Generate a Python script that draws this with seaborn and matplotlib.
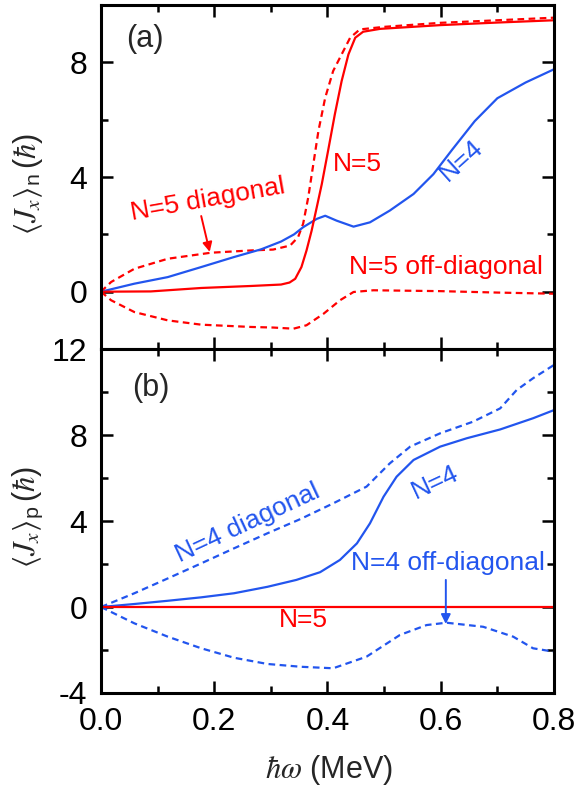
import matplotlib
matplotlib.use("Agg")
import matplotlib.pyplot as plt
import seaborn as sns
import pandas as pd
from matplotlib.ticker import MultipleLocator, FixedLocator

# ---------------- data ----------------
# panel (a): neutrons
a_n4_x = [0, 0.059, 0.118, 0.177, 0.235, 0.283, 0.318, 0.341, 0.357, 0.381, 0.396, 0.416,
          0.446, 0.475, 0.51, 0.552, 0.587, 0.62, 0.66, 0.70, 0.75, 0.8]
a_n4_y = [0, 0.28, 0.51, 0.86, 1.21, 1.48, 1.75, 2.0, 2.25, 2.54, 2.65, 2.48,
          2.27, 2.42, 2.83, 3.41, 4.1, 4.95, 5.95, 6.75, 7.3, 7.76]

a_n5_x = [0, 0.088, 0.177, 0.265, 0.318, 0.333, 0.343, 0.354, 0.363, 0.372, 0.381, 0.390,
          0.401, 0.413, 0.425, 0.437, 0.449, 0.463, 0.493, 0.599, 0.7, 0.8]
a_n5_y = [0, 0.01, 0.13, 0.20, 0.25, 0.32, 0.45, 0.86, 1.44, 2.13, 2.94, 3.76,
          4.91, 6.19, 7.35, 8.28, 8.86, 9.07, 9.17, 9.30, 9.39, 9.47]

a_n5diag_x = [0, 0.018, 0.059, 0.118, 0.194, 0.265, 0.304, 0.334, 0.348, 0.357, 0.366,
              0.375, 0.384, 0.396, 0.41, 0.425, 0.44, 0.457, 0.5, 0.599, 0.7, 0.8]
a_n5diag_y = [0, 0.34, 0.80, 1.15, 1.36, 1.44, 1.47, 1.61, 1.90, 2.37, 3.29,
              4.45, 5.61, 6.77, 7.70, 8.28, 8.86, 9.15, 9.24, 9.38, 9.47, 9.56]

a_n5off_x = [0, 0.018, 0.059, 0.118, 0.177, 0.265, 0.304, 0.34, 0.363, 0.393, 0.422,
             0.446, 0.481, 0.599, 0.7, 0.8]
a_n5off_y = [0, -0.30, -0.71, -1.0, -1.15, -1.23, -1.25, -1.29, -1.17, -0.77, -0.30,
             -0.01, 0.05, 0.02, -0.03, -0.07]

# panel (b): protons
b_n4diag_x = [0, 0.059, 0.118, 0.177, 0.235, 0.294, 0.353, 0.41, 0.469, 0.51, 0.546,
              0.599, 0.657, 0.705, 0.734, 0.763, 0.8]
b_n4diag_y = [0, 0.64, 1.33, 2.03, 2.73, 3.43, 4.1, 4.82, 5.6, 6.68, 7.46,
              8.08, 8.62, 9.24, 10.09, 10.64, 11.26]

b_n4_x = [0, 0.059, 0.118, 0.177, 0.235, 0.294, 0.345, 0.387, 0.422, 0.452, 0.475,
          0.499, 0.522, 0.552, 0.599, 0.646, 0.705, 0.763, 0.8]
b_n4_y = [0, 0.14, 0.29, 0.45, 0.64, 0.94, 1.26, 1.62, 2.19, 2.96, 3.89,
          5.13, 6.06, 6.84, 7.46, 7.85, 8.26, 8.78, 9.16]

b_n4off_x = [0, 0.059, 0.118, 0.177, 0.235, 0.294, 0.353, 0.41, 0.469, 0.528, 0.575,
             0.61, 0.675, 0.728, 0.763, 0.8]
b_n4off_y = [0, -0.76, -1.38, -1.92, -2.36, -2.65, -2.78, -2.85, -2.31, -1.30, -0.84,
             -0.73, -0.92, -1.38, -1.92, -2.08]

b_n5_x = [0, 0.8]
b_n5_y = [0, 0]

x_ticks = [0.0, 0.2, 0.4, 0.6, 0.8]
x_ticklabels = ["0.0", "0.2", "0.4", "0.6", "0.8"]
a_yticks = [0, 4, 8]
b_yticks = [-4, 0, 4, 8, 12]

RED = "#ff0000"
BLUE = "#2255ee"
DASH = (0, (3, 2))

# ---------------- style ----------------
sns.set_style("ticks")
plt.rcParams["font.family"] = ["Liberation Sans", "DejaVu Sans"]
plt.rcParams["axes.unicode_minus"] = False
plt.rcParams["mathtext.fontset"] = "custom"
plt.rcParams["mathtext.rm"] = "Liberation Sans"
plt.rcParams["mathtext.sf"] = "Liberation Sans"
plt.rcParams["mathtext.it"] = "STIXGeneral:italic"
plt.rcParams["mathtext.bf"] = "Liberation Sans:bold"
plt.rcParams["mathtext.fallback"] = "stix"

fig = plt.figure(figsize=(5.79, 7.92), dpi=100)
ax_a = fig.add_axes([0.1744, 0.5593, 0.7824, 0.4343])
ax_b = fig.add_axes([0.1744, 0.125, 0.7824, 0.4343])


def draw(ax, xs, ys, color, ls):
    df = pd.DataFrame({"x": xs, "y": ys})
    sns.lineplot(data=df, x="x", y="y", ax=ax, color=color, linestyle=ls,
                 linewidth=1.6, estimator=None, sort=False)


draw(ax_a, a_n5diag_x, a_n5diag_y, RED, DASH)
draw(ax_a, a_n5off_x, a_n5off_y, RED, DASH)
draw(ax_a, a_n4_x, a_n4_y, BLUE, "-")
draw(ax_a, a_n5_x, a_n5_y, RED, "-")

draw(ax_b, b_n4diag_x, b_n4diag_y, BLUE, DASH)
draw(ax_b, b_n4off_x, b_n4off_y, BLUE, DASH)
draw(ax_b, b_n4_x, b_n4_y, BLUE, "-")
draw(ax_b, b_n5_x, b_n5_y, RED, "-")

for ax in (ax_a, ax_b):
    ax.set_xlim(0, 0.8)
    ax.set_xlabel("")
    ax.set_ylabel("")
    ax.xaxis.set_major_locator(FixedLocator(x_ticks))
    ax.xaxis.set_minor_locator(MultipleLocator(0.1))
    ax.yaxis.set_minor_locator(MultipleLocator(2))
    ax.tick_params(which="both", direction="in", top=True, right=True,
                   width=1.8, colors="black")
    ax.tick_params(which="major", length=8.5, labelsize=23, pad=10)
    ax.tick_params(which="minor", length=5)
    for s in ax.spines.values():
        s.set_linewidth(2.2)
        s.set_color("black")

ax_a.set_ylim(-2, 10)
ax_a.set_yticks(a_yticks)
ax_a.set_xticklabels([])
ax_b.set_ylim(-4, 12)
ax_b.set_yticks(b_yticks)
ax_b.set_xticks(x_ticks)
ax_b.set_xticklabels(x_ticklabels)

# ---------------- annotations ----------------
fs = 19
ax_a.text(0.078, 8.83, "(a)", fontsize=22, ha="center", va="center")
ax_a.text(0.189, 3.2, "N=5 diagonal", color=RED, fontsize=fs, rotation=10,
          ha="center", va="center")
ax_a.annotate("", xy=(0.192, 1.39), xytext=(0.177, 2.64),
              arrowprops=dict(arrowstyle="-|>", color=RED, lw=1.4,
                              mutation_scale=14, shrinkA=0, shrinkB=0))
ax_a.text(0.452, 4.45, "N=5", color=RED, fontsize=fs, ha="center", va="center")
ax_a.text(0.636, 4.59, "N=4", color=BLUE, fontsize=fs, rotation=42,
          ha="center", va="center")
ax_a.text(0.609, 0.87, "N=5 off-diagonal", color=RED, fontsize=fs,
          ha="center", va="center")

ax_b.text(0.088, 10.19, "(b)", fontsize=22, ha="center", va="center")
ax_b.text(0.26, 3.9, "N=4 diagonal", color=BLUE, fontsize=fs, rotation=25,
          ha="center", va="center")
ax_b.text(0.59, 5.81, "N=4", color=BLUE, fontsize=fs, rotation=25,
          ha="center", va="center")
ax_b.text(0.613, 2.05, "N=4 off-diagonal", color=BLUE, fontsize=fs,
          ha="center", va="center")
ax_b.annotate("", xy=(0.609, -0.79), xytext=(0.609, 1.26),
              arrowprops=dict(arrowstyle="-|>", color=BLUE, lw=1.4,
                              mutation_scale=14, shrinkA=0, shrinkB=0))
ax_b.text(0.358, -0.6, "N=5", color=RED, fontsize=fs, ha="center", va="center")

# axis labels
fig.text(0.048, 0.768, r"$\langle J_x\rangle_{\mathrm{n}}\,(\hbar)$", rotation=90,
         fontsize=22, ha="center", va="center")
fig.text(0.048, 0.347, r"$\langle J_x\rangle_{\mathrm{p}}\,(\hbar)$", rotation=90,
         fontsize=22, ha="center", va="center")
fig.text(0.568, 0.028, r"$\hbar\omega$ (MeV)", fontsize=22, ha="center", va="center")

fig.savefig("out.png", dpi=100)
